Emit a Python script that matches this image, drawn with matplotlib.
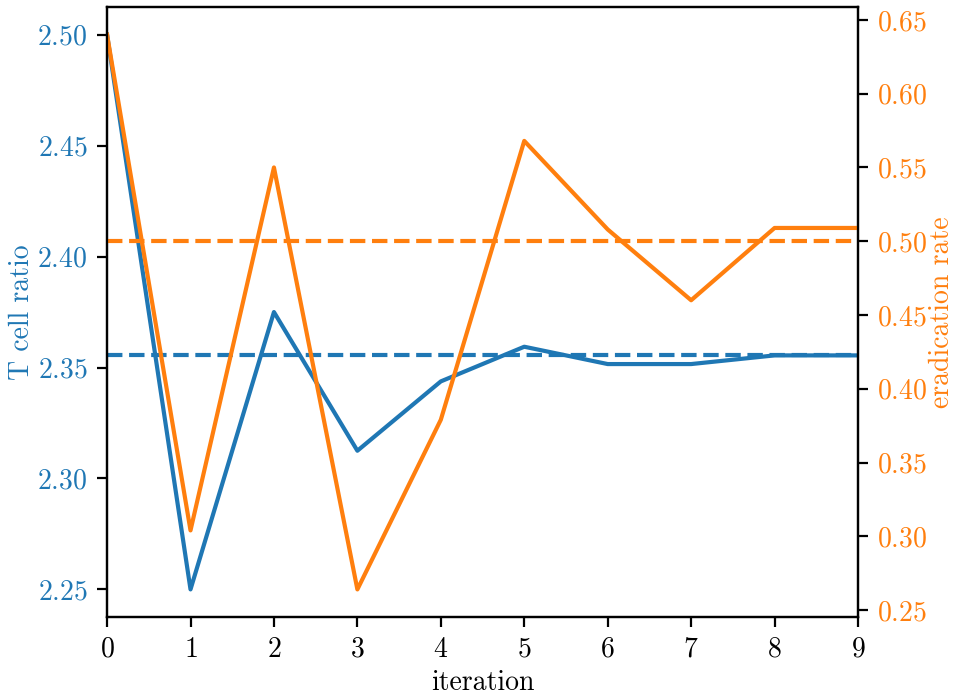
import matplotlib
matplotlib.use('Agg')
import matplotlib.pyplot as plt

plt.rcParams['font.family'] = 'cmr10'
plt.rcParams['mathtext.fontset'] = 'cm'
plt.rcParams['axes.formatter.use_mathtext'] = True
plt.rcParams['font.size'] = 10

iterations = [0, 1, 2, 3, 4, 5, 6, 7, 8, 9]
t_cell_ratio = [2.5, 2.25, 2.375, 2.3125, 2.34375, 2.359375, 2.3515625, 2.3515625, 2.35546875, 2.35546875]
eradication = [0.640, 0.304, 0.550, 0.264, 0.379, 0.568, 0.508, 0.460, 0.509, 0.509]
t_cell_final = 2.3555
eradication_target = 0.5

blue = 'tab:blue'
orange = 'tab:orange'

fig, ax1 = plt.subplots(figsize=(4.78, 3.475), dpi=200)
fig.subplots_adjust(left=0.112, right=0.8975, bottom=0.112, top=0.99)

ax1.plot(iterations, t_cell_ratio, color=blue)
ax1.axhline(t_cell_final, color=blue, linestyle='--')
ax1.set_xlabel('iteration', labelpad=2.5)
ax1.set_ylabel('T cell ratio', color=blue, labelpad=1)
ax1.tick_params(axis='y', labelcolor=blue)
ax1.set_xlim(0, 9)
ax1.set_xticks(iterations)
ax1.set_yticks([2.25, 2.30, 2.35, 2.40, 2.45, 2.50])

ax2 = ax1.twinx()
ax2.plot(iterations, eradication, color=orange)
ax2.axhline(eradication_target, color=orange, linestyle='--')
ax2.set_ylabel('eradication rate', color=orange, labelpad=0.5)
ax2.tick_params(axis='y', labelcolor=orange)
ax2.set_yticks([0.25, 0.30, 0.35, 0.40, 0.45, 0.50, 0.55, 0.60, 0.65])

fig.savefig('out.png', dpi=200)
